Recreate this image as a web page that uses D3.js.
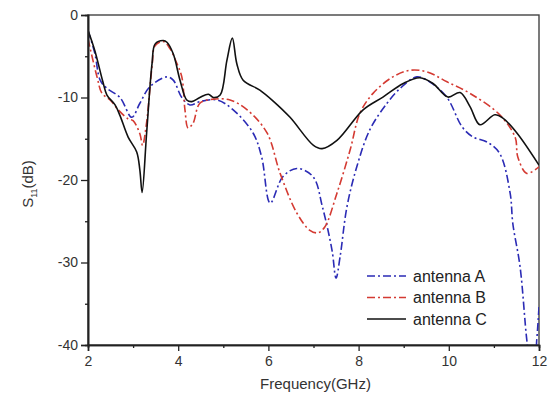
<!DOCTYPE html>
<html><head><meta charset="utf-8">
<script src="https://cdn.jsdelivr.net/npm/d3@7"></script>
<style>body{margin:0;background:#fff}</style>
</head><body><svg id="c" width="554" height="403"></svg>
<script>
const seriesNames = ["antenna A", "antenna B", "antenna C"];
const seriesColors = ["#2b2bb5", "#d43a32", "#111111"];
const xTicks = [2, 4, 6, 8, 10, 12];
const yTicks = [0, -10, -20, -30, -40];

const antennaA = [[2,-1.9],[2.15,-4.6],[2.27,-7.9],[2.42,-8.9],[2.71,-10],[2.97,-12.4],[3.15,-10.7],[3.37,-8.7],[3.75,-7.5],[3.89,-7.9],[4.08,-10],[4.26,-10.9],[4.48,-10.5],[4.86,-10.3],[5.22,-11.5],[5.66,-14.3],[5.85,-17.2],[6.04,-22.8],[6.32,-19.6],[6.63,-18.6],[6.99,-19.6],[7.2,-23.3],[7.41,-28.5],[7.5,-31.9],[7.59,-29.3],[7.74,-23.3],[7.96,-18.4],[8.25,-13.9],[8.63,-10.7],[8.92,-8.9],[9.29,-7.5],[9.6,-8.2],[9.96,-10],[10.3,-13.6],[10.54,-14.8],[10.85,-15.4],[11.13,-16.8],[11.36,-21.6],[11.42,-25.3],[11.58,-30.5],[11.73,-39.4],[11.8,-42],[11.9,-42],[11.95,-39.4],[12,-35.4]];
const antennaB = [[2,-2.9],[2.2,-7.5],[2.31,-9.5],[2.49,-10.3],[2.67,-11.5],[2.89,-12.6],[3.0,-12.8],[3.15,-14.4],[3.21,-15.8],[3.3,-13],[3.42,-6.2],[3.49,-3.7],[3.67,-3.2],[3.82,-4.1],[3.95,-5.6],[4.08,-7.5],[4.15,-11.5],[4.22,-13.7],[4.33,-13.1],[4.48,-10.7],[4.78,-10.2],[5.15,-10.3],[5.53,-11.5],[5.97,-14.3],[6.26,-19.2],[6.63,-24],[6.92,-26.1],[7.1,-26.4],[7.25,-25.7],[7.52,-21.6],[7.81,-16.4],[8.03,-11.9],[8.32,-9.5],[8.76,-7.5],[9.14,-6.7],[9.52,-6.9],[9.96,-8.1],[10.47,-9.5],[11.13,-12.1],[11.47,-14.8],[11.53,-17.2],[11.73,-19.2],[12,-18.4]];
const antennaC = [[2,-1.85],[2.15,-4.3],[2.33,-8.1],[2.42,-9.7],[2.6,-10.9],[2.71,-12.2],[2.89,-14.8],[3.08,-16.6],[3.15,-18.8],[3.2,-21.5],[3.3,-14.3],[3.42,-5.9],[3.49,-3.5],[3.67,-3.1],[3.75,-3.3],[3.89,-4.7],[4.04,-7.9],[4.19,-10.3],[4.3,-10.5],[4.48,-10],[4.67,-9.6],[4.78,-10],[4.93,-9.7],[5.08,-5.5],[5.2,-2.8],[5.3,-5.9],[5.44,-7.9],[5.81,-9.1],[6.1,-10.4],[6.48,-12.4],[7.0,-15.8],[7.19,-16.2],[7.52,-15.2],[8.1,-11.5],[8.54,-9.95],[8.99,-8.3],[9.36,-7.6],[9.65,-8.3],[9.98,-9.95],[10.25,-9.4],[10.47,-11.1],[10.69,-13.3],[11.02,-12.1],[11.2,-12.5],[11.51,-14.3],[12,-18.2]];
const allSeries = [antennaA, antennaB, antennaC];

const svg = d3.select("#c");
const m = {l: 88, t: 15, r: 539, b: 345};
const x = d3.scaleLinear().domain([2, 12]).range([m.l, m.r]);
const y = d3.scaleLinear().domain([-40, 0]).range([m.b, m.t]);

svg.append("defs").append("clipPath").attr("id","clip")
  .append("rect").attr("x", m.l).attr("y", m.t).attr("width", m.r - m.l).attr("height", m.b - m.t);

// frame
svg.append("rect").attr("x", m.l).attr("y", m.t).attr("width", m.r - m.l).attr("height", m.b - m.t)
  .attr("fill","none").attr("stroke","#444").attr("stroke-width",1.4);

const line = d3.line().x(d => x(d[0])).y(d => y(d[1])).curve(d3.curveCatmullRom.alpha(0.5));
const dash = [[8,3,2,3],[8,3,2,3],null];
const g = svg.append("g").attr("clip-path","url(#clip)");
allSeries.forEach((s, i) => {
  g.append("path").attr("d", line(s)).attr("fill","none")
    .attr("stroke", seriesColors[i]).attr("stroke-width", 1.6)
    .attr("stroke-dasharray", dash[i] ? dash[i].join(",") : null);
});

// axes
const font = "Arial, 'Liberation Sans', sans-serif";
const xAxis = d3.axisBottom(x).tickValues(xTicks).tickSize(6).tickPadding(5).tickFormat(d3.format("d"));
const xMinor = d3.axisBottom(x).tickValues([3,5,7,9,11]).tickSize(3).tickFormat("");
const yAxis = d3.axisLeft(y).tickValues(yTicks).tickSize(7).tickPadding(3).tickFormat(d => d === 0 ? "0" : d3.format("d")(d).replace("−","-"));
const yMinor = d3.axisLeft(y).tickValues([-5,-15,-25,-35]).tickSize(3).tickFormat("");

function style(sel){
  sel.select(".domain").attr("stroke","#222").attr("stroke-width",1.6);
  sel.selectAll(".tick line").attr("stroke","#222").attr("stroke-width",1.3);
  sel.selectAll("text").attr("fill","#333").style("font-family", font).style("font-size","14px");
}
svg.append("g").attr("transform",`translate(0,${m.b})`).call(xAxis).call(style);
svg.append("g").attr("transform",`translate(0,${m.b})`).call(xMinor).call(style);
svg.append("g").attr("transform",`translate(${m.l},0)`).call(yAxis).call(style);
svg.append("g").attr("transform",`translate(${m.l},0)`).call(yMinor).call(style);

// labels
svg.append("text").attr("x", (m.l + m.r)/2 + 2).attr("y", 389).attr("text-anchor","middle")
  .attr("fill","#333").style("font-family", font).style("font-size","15px").text("Frequency(GHz)");
const yl = svg.append("text").attr("transform",`translate(33,${(m.t+m.b)/2 + 4}) rotate(-90)`)
  .attr("text-anchor","middle").attr("fill","#333").style("font-family", font).style("font-size","15px");
yl.append("tspan").text("S");
yl.append("tspan").attr("dy", 4).style("font-size","9px").text("11");
yl.append("tspan").attr("dy", -4).text("(dB)");

// legend
const lg = svg.append("g");
seriesNames.forEach((n, i) => {
  const yy = 276 + i * 21.5;
  lg.append("line").attr("x1", 367).attr("x2", 406).attr("y1", yy).attr("y2", yy)
    .attr("stroke", seriesColors[i]).attr("stroke-width", 1.6)
    .attr("stroke-dasharray", dash[i] ? dash[i].join(",") : null);
  lg.append("text").attr("x", 413).attr("y", yy + 5.5).attr("fill","#222")
    .style("font-family", font).style("font-size","16px").text(n);
});
</script></body></html>
